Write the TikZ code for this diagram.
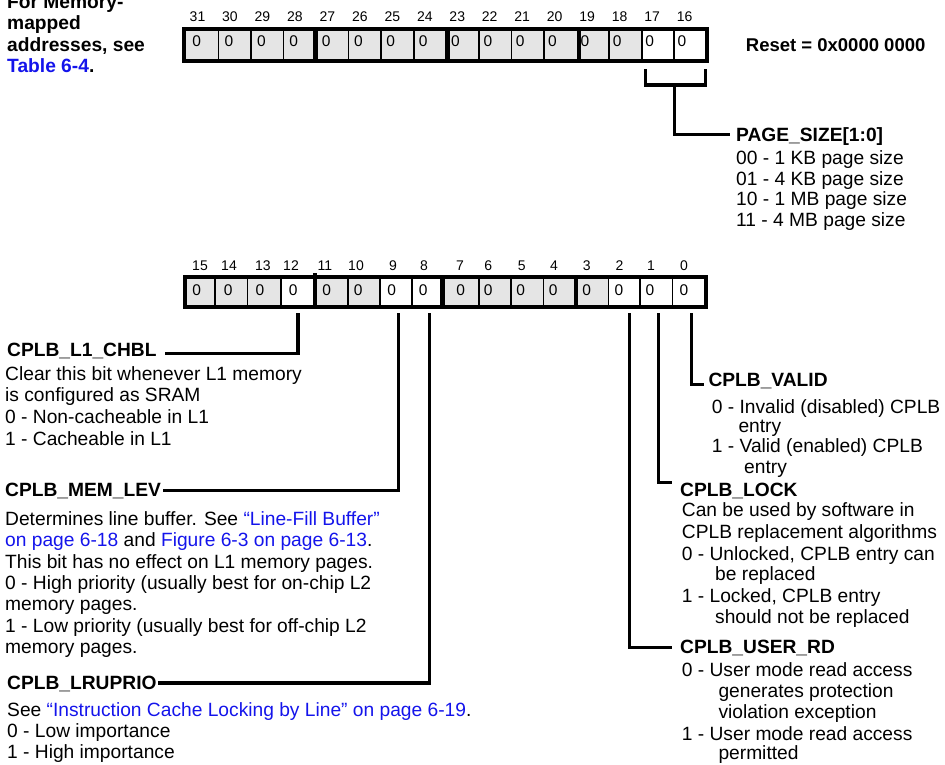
\documentclass[tikz,border=0pt]{standalone}
\usepackage{fontspec}
\setmainfont{Liberation Sans}
\definecolor{lnk}{RGB}{20,20,235}
\definecolor{cellgray}{RGB}{229,229,229}
\newcommand\myBody{\fontsize{19.2}{21.4}\selectfont}
\newcommand\myHdr{\bfseries\fontsize{19.2}{21.4}\selectfont}
\begin{document}
\begin{tikzpicture}[x=1pt,y=-1pt,
  hdr/.style={anchor=base west,inner sep=0pt,font=\myHdr},
  body/.style={anchor=base west,inner sep=0pt,font=\myBody},
  bitnum/.style={anchor=base,inner sep=0pt,font=\fontsize{14}{14}\selectfont},
  celldig/.style={anchor=base,inner sep=0pt,font=\fontsize{15.5}{15.5}\selectfont},
  conn/.style={line width=3.3pt},
  thinsep/.style={line width=1.6pt},
  thicksep/.style={line width=4.5pt},
  regframe/.style={line width=4.2pt}]
\useasboundingbox (0,0) rectangle (945,764);

% ---------- top-left note ----------
\node[hdr] (tl1) at (7,8.5) {For Memory-};
\node[hdr] (tl2) at (7,29.8) {mapped};
\node[hdr] (tl3) at (7,51.1) {addresses, see};
\node[hdr] (tl4) at (7,72.4) {\textcolor{lnk}{Table 6-4}.};

% ---------- top register ----------
\fill[cellgray] (184,28.7) rectangle (707,60.7);
\fill[white] (641.7,28.7) rectangle (707,60.7);
\foreach \x in {218.3,250.8,283.4,348.5,381.1,413.7,478.8,511.4,543.9,609.1,641.7,674.2}
  \draw[thinsep] (\x,28.7) -- (\x,60.7);
\foreach \x in {315.5,447.5,579}
  \draw[thicksep] (\x,28.7) -- (\x,60.7);
\draw[regframe] (184,28.7) rectangle (707,60.7);
\foreach \j in {0,...,15}{
  \pgfmathtruncatemacro\bit{31-\j}
  \node[bitnum] (tb\bit) at ({197.5+32.47*\j},21.7) {\bit};
  \node[celldig] (td\bit) at ({196.7+32.35*\j},46.7) {0};
}
\node[hdr,font=\bfseries\fontsize{18.5}{20}\selectfont] (reset) at (745.7,51.7) {Reset = 0x0000 0000};

% PAGE_SIZE bracket
\coordinate (bl) at (645.8,69);
\coordinate (br) at (705.7,69);
\coordinate (bs) at (674.3,85);
\coordinate (pe) at (730,134.3);
\draw[conn] (bl) -- ++(0,16) -| (br);
\draw[conn] (bs) |- (pe);
\node[hdr] (ps) at (736,141.7) {PAGE\_SIZE[1:0]};
\node[body] (ps1) at (736,164) {00 - 1 KB page size};
\node[body] (ps2) at (736,185) {01 - 4 KB page size};
\node[body] (ps3) at (736,205.7) {10 - 1 MB page size};
\node[body] (ps4) at (736,226.7) {11 - 4 MB page size};

% ---------- bottom register ----------
\fill[cellgray] (185,276.7) rectangle (706,307);
\fill[white] (281,276.7) rectangle (315,307);
\fill[white] (380,276.7) rectangle (442.5,307);
\fill[white] (608.3,276.7) rectangle (706,307);
\foreach \x in {215,247.5,281,347.7,380,411.7,479,511,543.3,608.3,640,672.3}
  \draw[thinsep] (\x,276.7) -- (\x,307);
\draw[thicksep] (315,273.3) -- (315,307);
\foreach \x in {442.5,575.8}
  \draw[thicksep] (\x,276.7) -- (\x,307);
\draw[regframe] (185,276.7) rectangle (706,307);
\foreach \bit/\lx/\dx in {15/200/196.7,14/229/228.3,13/262.8/260,12/291/293.3,
  11/325/326.7,10/356/358.3,9/393/391.7,8/424/423.3,7/460/460.7,6/488.3/488.3,
  5/521.7/520.7,4/554/553.3,3/586.7/586.7,2/619.5/619,1/651/650,0/684/684}{
  \node[bitnum] (bb\bit) at (\lx,270) {\bit};
  \node[celldig] (bd\bit) at (\dx,295.7) {0};
}

% ---------- connectors ----------
\coordinate (p12) at (298,313);   \coordinate (e12) at (165,353.3);
\coordinate (p9) at (398.7,313);  \coordinate (e9) at (163,490.7);
\coordinate (p8) at (429.8,313);  \coordinate (e8) at (158,683);
\coordinate (p2) at (629.5,313);  \coordinate (e2) at (671.7,647.3);
\coordinate (p1) at (658.7,313);  \coordinate (e1) at (671.7,482.3);
\coordinate (p0) at (691.7,313);  \coordinate (e0) at (704,384.3);
\draw[conn] (p12) |- (e12);
\draw[conn] (p9) |- (e9);
\draw[conn] (p8) |- (e8);
\draw[conn] (p2) |- (e2);
\draw[conn] (p1) |- (e1);
\draw[conn] (p0) |- (e0);

% ---------- left descriptions ----------
\node[hdr] (hl1) at (7,356.7) {CPLB\_L1\_CHBL};
\node[body] (l1a) at (5,380) {Clear this bit whenever L1 memory};
\node[body] (l1b) at (5,401.7) {is configured as SRAM};
\node[body] (l1c) at (5,423.3) {0 - Non-cacheable in L1};
\node[body] (l1d) at (5,445) {1 - Cacheable in L1};

\node[hdr] (hml) at (5,496.7) {CPLB\_MEM\_LEV};
\node[body] (mla) at (5,525) {Determines line buffer. See \textcolor{lnk}{“Line-Fill Buffer”}};
\node[body] (mlb) at (5,546.5) {\textcolor{lnk}{on page 6-18} and \textcolor{lnk}{Figure 6-3 on page 6-13}.};
\node[body] (mlc) at (5,568) {This bit has no effect on L1 memory pages.};
\node[body] (mld) at (5,589.3) {0 - High priority (usually best for on-chip L2};
\node[body] (mle) at (5,610.7) {memory pages.};
\node[body] (mlf) at (5,632) {1 - Low priority (usually best for off-chip L2};
\node[body] (mlg) at (5,653.4) {memory pages.};

\node[hdr] (hlru) at (7,689) {CPLB\_LRUPRIO};
\node[body] (lra) at (7,716) {See \textcolor{lnk}{“Instruction Cache Locking by Line” on page 6-19}.};
\node[body] (lrb) at (7,737.5) {0 - Low importance};
\node[body] (lrc) at (7,758.5) {1 - High importance};

% ---------- right descriptions ----------
\node[hdr] (hval) at (708.3,386.7) {CPLB\_VALID};
\node[body] (va) at (711.7,413.5) {0 - Invalid (disabled) CPLB};
\node[body] (vb) at (738.3,432.5) {entry};
\node[body] (vc) at (711.7,452.5) {1 - Valid (enabled) CPLB};
\node[body] (vd) at (744,473) {entry};

\node[hdr] (hlock) at (680,496.5) {CPLB\_LOCK};
\node[body] (lka) at (681.7,516.7) {Can be used by software in};
\node[body] (lkb) at (681.7,538.3) {CPLB replacement algorithms};
\node[body] (lkc) at (681.7,560) {0 - Unlocked, CPLB entry can};
\node[body] (lkd) at (715,580.5) {be replaced};
\node[body] (lke) at (681.7,602.5) {1 - Locked, CPLB entry};
\node[body] (lkf) at (715,623.5) {should not be replaced};

\node[hdr] (husr) at (680,653.3) {CPLB\_USER\_RD};
\node[body] (ura) at (681.7,676.7) {0 - User mode read access};
\node[body] (urb) at (718.3,697.5) {generates protection};
\node[body] (urc) at (718.3,718.5) {violation exception};
\node[body] (urd) at (681.7,740) {1 - User mode read access};
\node[body] (ure) at (718.3,759.5) {permitted};
\end{tikzpicture}
\end{document}
